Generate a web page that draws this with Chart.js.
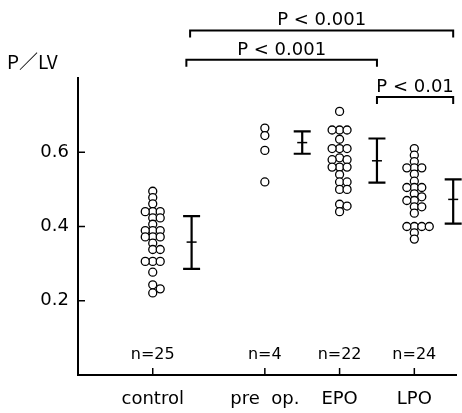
<!DOCTYPE html>
<html>
<head>
<meta charset="utf-8">
<script src="https://cdn.jsdelivr.net/npm/chart.js@4/dist/chart.umd.min.js"></script>
<style>
  html, body { margin: 0; padding: 0; background: #fff; }
  #wrap { width: 462px; height: 413px; }
</style>
</head>
<body>
<div id="wrap"><canvas id="c" width="462" height="413"></canvas></div>
<script>
// group names and where they sit on the x axis
const categories = ['control', 'pre  op.', 'EPO', 'LPO'];
const groupX = [1, 2.5, 3.5, 4.5];
const errX = [1.52, 3.0, 4.0, 5.02];
const nLabels = ['n=25', 'n=4', 'n=22', 'n=24'];

// P/LV of each patient
const controlValues = [0.495, 0.478, 0.461, 0.44, 0.44, 0.44, 0.423, 0.423, 0.406, 0.389, 0.389, 0.389,
  0.372, 0.372, 0.372, 0.355, 0.338, 0.338, 0.306, 0.306, 0.306, 0.277, 0.243, 0.232, 0.221];
const preOpValues = [0.665, 0.645, 0.605, 0.52];
const epoValues = [0.71, 0.66, 0.66, 0.66, 0.635, 0.61, 0.61, 0.61, 0.585, 0.58, 0.58, 0.56, 0.56,
  0.56, 0.54, 0.52, 0.52, 0.50, 0.50, 0.46, 0.455, 0.44];
const lpoValues = [0.61, 0.592, 0.575, 0.558, 0.558, 0.558, 0.541, 0.522, 0.505, 0.505, 0.505, 0.488,
  0.48, 0.47, 0.47, 0.453, 0.453, 0.436, 0.40, 0.40, 0.40, 0.40, 0.383, 0.366];

// mean +/- SD bars
const errMean = [0.358, 0.626, 0.577, 0.473];
const errLow = [0.286, 0.596, 0.518, 0.408];
const errHigh = [0.428, 0.656, 0.637, 0.527];

// significance brackets
const pLabels = ['P < 0.001', 'P < 0.001', 'P < 0.01'];
const pFrom = [1.5, 1.45, 4.0];
const pTo = [5.02, 4.0, 5.02];
const pLevel = [0.928, 0.849, 0.749];

const yTicks = [0.2, 0.4, 0.6];
const groups = [controlValues, preOpValues, epoValues, lpoValues];

Chart.defaults.font.family = '"DejaVu Sans", sans-serif';
Chart.defaults.color = '#000';

// simple beeswarm: stack equal-ish values side by side
function swarm(values, center, xs, ys) {
  const pxPerX = xs.getPixelForValue(1) - xs.getPixelForValue(0);
  const pxPerY = ys.getPixelForValue(0) - ys.getPixelForValue(1);
  const step = 7.5, minD = 6;
  const placed = [];
  values.slice().sort((a, b) => b - a).forEach(v => {
    for (const k of [0, 1, -1, 2, -2, 3, -3]) {
      const dx = k * step;
      const ok = placed.every(p => {
        const ddx = p.dx - dx, ddy = (p.v - v) * pxPerY;
        return ddx * ddx + ddy * ddy >= minD * minD;
      });
      if (ok) { placed.push({ v, dx }); break; }
    }
  });
  return placed.map(p => ({ x: center + p.dx / pxPerX, y: p.v }));
}

const extras = {
  id: 'extras',
  afterDatasetsDraw(chart) {
    const { ctx, scales: { x, y } } = chart;
    ctx.save();
    ctx.strokeStyle = '#000';
    ctx.fillStyle = '#000';

    // inward tick marks
    ctx.lineWidth = 1.5;
    yTicks.forEach(t => {
      const py = y.getPixelForValue(t);
      ctx.beginPath();
      ctx.moveTo(x.left, py);
      ctx.lineTo(x.left + 7, py);
      ctx.stroke();
    });
    groupX.forEach(g => {
      const px = x.getPixelForValue(g);
      ctx.beginPath();
      ctx.moveTo(px, y.bottom);
      ctx.lineTo(px, y.bottom - 7);
      ctx.stroke();
    });

    // mean +/- SD
    errMean.forEach((m, i) => {
      const px = x.getPixelForValue(errX[i]);
      const hi = y.getPixelForValue(errHigh[i]);
      const lo = y.getPixelForValue(errLow[i]);
      const mid = y.getPixelForValue(m);
      ctx.lineWidth = 2.2;
      ctx.beginPath();
      ctx.moveTo(px, hi); ctx.lineTo(px, lo);
      ctx.moveTo(px - 8.5, hi); ctx.lineTo(px + 8.5, hi);
      ctx.moveTo(px - 8.5, lo); ctx.lineTo(px + 8.5, lo);
      ctx.stroke();
      ctx.lineWidth = 1.5;
      ctx.beginPath();
      ctx.moveTo(px - 5, mid); ctx.lineTo(px + 5, mid);
      ctx.stroke();
    });

    // brackets
    ctx.font = '18px "DejaVu Sans"';
    ctx.textAlign = 'center';
    ctx.textBaseline = 'alphabetic';
    pLabels.forEach((lab, i) => {
      const x1 = x.getPixelForValue(pFrom[i]);
      const x2 = x.getPixelForValue(pTo[i]);
      const py = y.getPixelForValue(pLevel[i]);
      ctx.lineWidth = 2;
      ctx.beginPath();
      ctx.moveTo(x1, py + 7); ctx.lineTo(x1, py); ctx.lineTo(x2, py); ctx.lineTo(x2, py + 7);
      ctx.stroke();
      ctx.fillText(lab, (x1 + x2) / 2, py - 5);
    });

    // n= labels
    ctx.font = '16px "DejaVu Sans"';
    ctx.textBaseline = 'middle';
    nLabels.forEach((lab, i) => {
      ctx.fillText(lab, x.getPixelForValue(groupX[i]), y.getPixelForValue(0.055));
    });

    // axis title
    ctx.font = '19px "Noto Sans CJK JP"';
    ctx.textAlign = 'left';
    ctx.fillText('P／LV', 7, 62);
    ctx.restore();
  }
};

const chart = new Chart(document.getElementById('c'), {
  type: 'scatter',
  data: {
    datasets: categories.map(name => ({
      label: name,
      data: [],
      pointStyle: 'circle',
      pointRadius: 4,
      pointHoverRadius: 4,
      borderColor: '#000',
      borderWidth: 1.3,
      backgroundColor: '#fff'
    }))
  },
  options: {
    responsive: false,
    animation: false,
    layout: { padding: { top: 78, right: 4, left: 0, bottom: 0 } },
    plugins: { legend: { display: false }, tooltip: { enabled: false } },
    scales: {
      x: {
        type: 'linear',
        min: 0,
        max: 5.067,
        grid: { display: false, drawTicks: false },
        border: { display: true, color: '#000', width: 2 },
        afterBuildTicks: s => { s.ticks = groupX.map(v => ({ value: v })); },
        afterFit: s => { s.height = 38; },
        ticks: {
          autoSkip: false,
          maxRotation: 0,
          padding: 14,
          font: { size: 18 },
          callback: (v, i) => categories[i]
        }
      },
      y: {
        min: 0,
        max: 0.8,
        grid: { display: false, drawTicks: false },
        border: { display: true, color: '#000', width: 2 },
        afterBuildTicks: s => { s.ticks = yTicks.map(v => ({ value: v })); },
        afterFit: s => { s.width = 78; },
        ticks: {
          padding: 9,
          font: { size: 18 },
          callback: v => v.toFixed(1)
        }
      }
    }
  },
  plugins: [extras]
});

// place the dots once the scales are known
groups.forEach((vals, i) => {
  chart.data.datasets[i].data = swarm(vals, groupX[i], chart.scales.x, chart.scales.y);
});
chart.update('none');
</script>
</body>
</html>
